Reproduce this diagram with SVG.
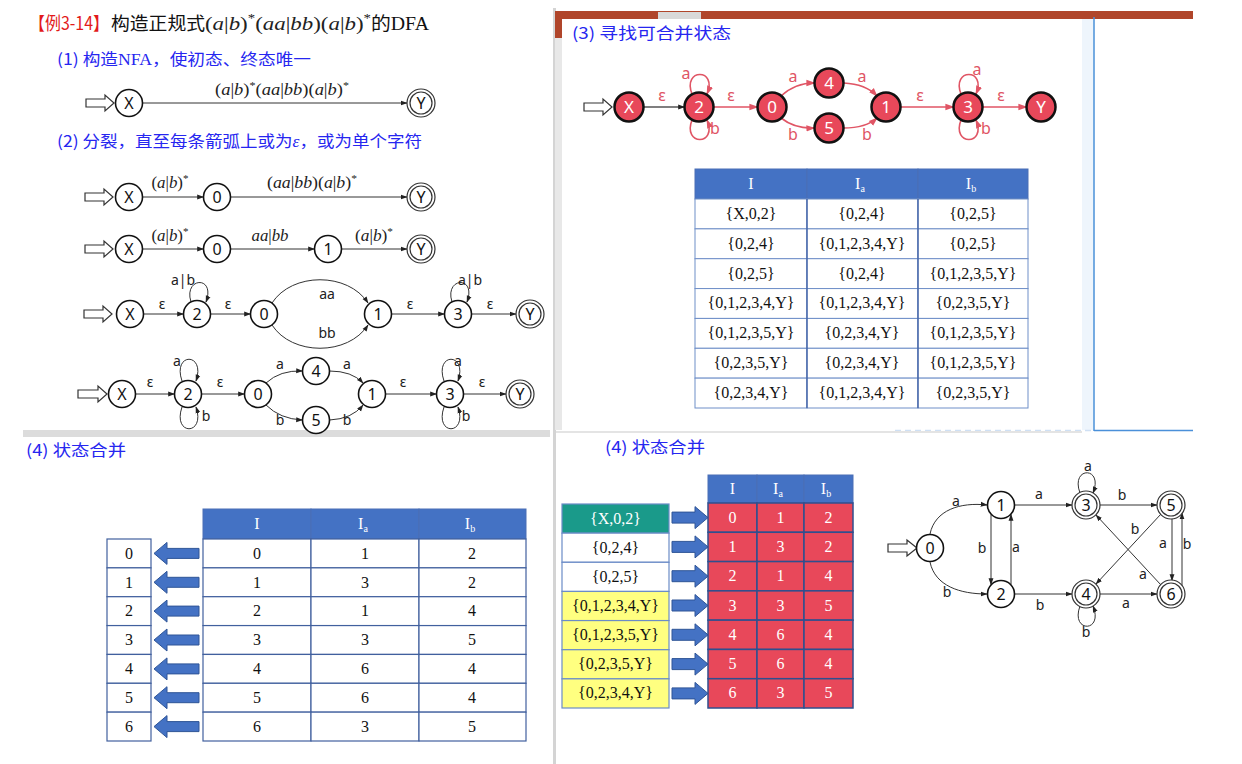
<svg xmlns="http://www.w3.org/2000/svg" width="1242" height="764" viewBox="0 0 1242 764">
<defs>
<marker id="ah" viewBox="0 0 10 10" refX="9" refY="5" markerWidth="7" markerHeight="7" markerUnits="userSpaceOnUse" orient="auto"><path d="M0,1.5 L10,5 L0,8.5 z" fill="#222"/></marker>
<marker id="rah" viewBox="0 0 10 10" refX="9" refY="5" markerWidth="9" markerHeight="9" markerUnits="userSpaceOnUse" orient="auto"><path d="M0,1.5 L10,5 L0,8.5 z" fill="#e05565"/></marker>
<style>
.cn{font-family:"Noto Sans CJK SC","Noto Sans",sans-serif;}
.blue{fill:#2626f0;font-size:16px;}
.node{fill:#fff;stroke:#111;stroke-width:1.6;}
.dbl{fill:#fff;stroke:#333;stroke-width:1.2;}
.nl{font-family:"Noto Sans","DejaVu Sans",sans-serif;font-size:16px;text-anchor:middle;fill:#111;}
.el{font-family:"Noto Sans","DejaVu Sans",sans-serif;font-size:14px;text-anchor:middle;fill:#222;}
.e{fill:none;stroke:#333;stroke-width:1;marker-end:url(#ah);}
.ge{fill:none;stroke:#555;stroke-width:1.6;marker-end:url(#ah);}
.re{fill:none;stroke:#e05565;stroke-width:1.6;marker-end:url(#rah);}
.rn{fill:#e8485a;stroke:#111;stroke-width:2.5;}
.rl{font-family:"Noto Sans","DejaVu Sans",sans-serif;font-size:17px;fill:#fff;text-anchor:middle;}
.rel{font-family:"Noto Sans","DejaVu Sans",sans-serif;font-size:16px;fill:#e05565;text-anchor:middle;}
.m{font-family:"Liberation Serif",serif;font-size:16px;text-anchor:middle;fill:#222;}
.i{font-style:italic;}
.sup{font-size:65%;}
.hol{fill:#fff;stroke:#333;stroke-width:1.2;}
.t{font-family:"Liberation Serif",serif;font-size:16px;text-anchor:middle;fill:#111;}
.tw{font-family:"Liberation Serif",serif;font-size:16px;text-anchor:middle;fill:#fff;}
.hd{fill:#4472c4;stroke:#4a6fb5;stroke-width:1;}
.c1{fill:#fff;stroke:#6f8fc8;stroke-width:1;}
.c2{fill:#fff;stroke:#41609e;stroke-width:1.2;}
.cr{fill:#e8485a;stroke:#2f4f8f;stroke-width:1.5;}
.ba{fill:#4472c4;stroke:#2f5597;stroke-width:1;}
</style>
</defs>
<rect width="1242" height="764" fill="#fff"/>

<g id="panels">
<rect x="553" y="8" width="3" height="756" fill="#d4d4d4"/>
<rect x="555" y="11" width="638" height="8" fill="#b0452a"/>
<rect x="658" y="12" width="43" height="7" fill="#d9d9d9"/>
<rect x="555" y="11" width="7" height="27" fill="#b0452a"/>
<rect x="555" y="38" width="7" height="392" fill="#e8e8e8"/>
<rect x="1082" y="19" width="12" height="411" fill="#eef5fc"/>
<line x1="1094" y1="17" x2="1094" y2="431" stroke="#4a90d9" stroke-width="1.5"/>
<line x1="895" y1="430.5" x2="1094" y2="430.5" stroke="#cfe0f4" stroke-width="1.5" stroke-dasharray="6 4"/>
<line x1="1094" y1="430.5" x2="1193" y2="430.5" stroke="#4a90d9" stroke-width="1.5"/>
<rect x="23" y="430" width="527" height="7" fill="#dcdcdc"/>
<line x1="556" y1="432" x2="1082" y2="432" stroke="#e4e4e4" stroke-width="2"/>
</g>

<g id="titles">
<text class="cn" x="29" y="30" font-size="18" fill="#e21a1a" textLength="80" lengthAdjust="spacingAndGlyphs">【例3-14】</text>
<text class="cn" x="111" y="30" font-size="18" fill="#111" textLength="94" lengthAdjust="spacingAndGlyphs">构造正规式</text>
<text class="m" x="205" y="30" style="text-anchor:start;font-size:19px" textLength="166" lengthAdjust="spacingAndGlyphs">(<tspan class="i">a</tspan>|<tspan class="i">b</tspan>)<tspan class="sup" dy="-8">*</tspan><tspan dy="8">(</tspan><tspan class="i">aa</tspan>|<tspan class="i">bb</tspan>)(<tspan class="i">a</tspan>|<tspan class="i">b</tspan>)<tspan class="sup" dy="-8">*</tspan></text>
<text class="cn" x="371" y="30" font-size="18" fill="#111" textLength="58" lengthAdjust="spacingAndGlyphs">的<tspan font-family="Liberation Serif">DFA</tspan></text>
<text class="cn blue" x="57" y="65" textLength="254" lengthAdjust="spacingAndGlyphs">(1) 构造<tspan font-family="Liberation Serif">NFA</tspan>，使初态、终态唯一</text>
<text class="cn blue" x="57" y="147" textLength="365" lengthAdjust="spacingAndGlyphs">(2) 分裂，直至每条箭弧上或为<tspan font-family="Liberation Serif" font-style="italic">ε</tspan>，或为单个字符</text>
<text class="cn blue" x="572" y="39" textLength="159" lengthAdjust="spacingAndGlyphs">(3) 寻找可合并状态</text>
<text class="cn blue" x="26" y="456" textLength="100" lengthAdjust="spacingAndGlyphs">(4) 状态合并</text>
<text class="cn blue" x="605" y="453" textLength="100" lengthAdjust="spacingAndGlyphs">(4) 状态合并</text>
</g>

<g id="connectors">
<polygon class="hol" points="86,99 105,99 105,95 114,103 105,111 105,107 86,107"/>
<path class="e" d="M143 103 L407 103"/>
<polygon class="hol" points="85,193 104,193 104,189 113,197 104,205 104,201 85,201"/>
<path class="e" d="M143 197 L203.5 197"/>
<path class="e" d="M230.5 197 L407 197"/>
<polygon class="hol" points="85,245 104,245 104,241 113,249 104,257 104,253 85,253"/>
<path class="e" d="M143 249 L203.5 249"/>
<path class="e" d="M230.5 249 L314.5 249"/>
<path class="e" d="M341.5 249 L407 249"/>
<polygon class="hol" points="84,310 103,310 103,306 112,314 103,322 103,318 84,318"/>
<path class="e" d="M143.5 314 L183.5 314"/>
<path class="e" d="M191 302 C183 277,216 275,206 302"/>
<path class="e" d="M210.5 314 L250.5 314"/>
<path class="e" d="M272 303 C292 272,348 272,368 303"/>
<path class="e" d="M272 325 C292 356,348 356,368 325"/>
<path class="e" d="M391.5 314 L444.5 314"/>
<path class="e" d="M452 302 C444 277,477 275,467 302"/>
<path class="e" d="M471.5 314 L516 314"/>
<polygon class="hol" points="78,390 98,390 98,386 107,394 98,402 98,398 78,398"/>
<path class="e" d="M135.5 394 L174.5 394"/>
<path class="e" d="M182 381 C172 352,206 352,196 381"/>
<path class="e" d="M182 407 C172 436,206 436,196 407"/>
<path class="e" d="M201.5 394 L244.5 394"/>
<path class="e" d="M266 383 Q280 370 302.5 371"/>
<path class="e" d="M329.5 371 Q352 371 363 383"/>
<path class="e" d="M266 405 Q280 419 302.5 420"/>
<path class="e" d="M329.5 420 Q352 419 363 405"/>
<path class="e" d="M385.5 394 L436.5 394"/>
<path class="e" d="M444 381 C434 352,468 352,458 381"/>
<path class="e" d="M444 407 C434 436,468 436,458 407"/>
<path class="e" d="M463.5 394 L506 394"/>
<polygon class="hol" points="584,103 603,103 603,99 612,107 603,115 603,111 584,111"/>
<path class="ge" d="M643.5 107 L684.5 107"/>
<path class="re" d="M692 94 C682 68,718 68,707 94"/>
<path class="re" d="M692 120 C682 146,718 146,707 120"/>
<path class="re" d="M713.5 107 L757.5 107"/>
<path class="re" d="M781 96 Q795 83 814.5 83"/>
<path class="re" d="M843.5 83 Q866 84 877 96"/>
<path class="re" d="M781 118 Q795 129 814.5 128"/>
<path class="re" d="M843.5 128 Q866 128 877 118"/>
<path class="re" d="M900.5 107 L953.5 107"/>
<path class="re" d="M961 94 C951 68,987 68,976 94"/>
<path class="re" d="M961 120 C951 146,987 146,976 120"/>
<path class="re" d="M982.5 107 L1026.5 107"/>
<polygon class="hol" points="888,544 907,544 907,540 917,548 907,556 907,552 888,552"/>
<path class="e" d="M930 534 C935 510,960 502,987 505"/>
<path class="e" d="M930 562 C935 586,960 594,987 594"/>
<path class="e" d="M991 514.5 L991 584.5"/>
<path class="e" d="M1011 584.5 L1011 514.5"/>
<path class="e" d="M1014.5 505 L1072 505"/>
<path class="e" d="M1080 493 C1070 466,1104 466,1093 493"/>
<path class="e" d="M1100 505 L1157 505"/>
<path class="e" d="M1014.5 594 L1072 594"/>
<path class="e" d="M1080 606 C1070 633,1104 633,1093 606"/>
<path class="e" d="M1100 594 L1157 594"/>
<path class="e" d="M1172 518.5 L1172 580.5"/>
<path class="e" d="M1182 586 L1182 513"/>
<path class="e" d="M1161 514 L1096 584"/>
<path class="e" d="M1161 585 L1096 515"/>
</g>

<g id="edge-labels">
<text class="m" x="282" y="95" textLength="134" lengthAdjust="spacingAndGlyphs">(<tspan class="i">a</tspan>|<tspan class="i">b</tspan>)<tspan class="sup" dy="-6">*</tspan><tspan dy="6">(</tspan><tspan class="i">aa</tspan>|<tspan class="i">bb</tspan>)(<tspan class="i">a</tspan>|<tspan class="i">b</tspan>)<tspan class="sup" dy="-6">*</tspan></text>
<text class="m" x="170" y="188" textLength="37" lengthAdjust="spacingAndGlyphs">(<tspan class="i">a</tspan>|<tspan class="i">b</tspan>)<tspan class="sup" dy="-6">*</tspan></text>
<text class="m" x="312" y="188" textLength="90" lengthAdjust="spacingAndGlyphs">(<tspan class="i">aa</tspan>|<tspan class="i">bb</tspan>)(<tspan class="i">a</tspan>|<tspan class="i">b</tspan>)<tspan class="sup" dy="-6">*</tspan></text>
<text class="m" x="170" y="241" textLength="37" lengthAdjust="spacingAndGlyphs">(<tspan class="i">a</tspan>|<tspan class="i">b</tspan>)<tspan class="sup" dy="-6">*</tspan></text>
<text class="m" x="270" y="241" textLength="37" lengthAdjust="spacingAndGlyphs"><tspan class="i">aa</tspan>|<tspan class="i">bb</tspan></text>
<text class="m" x="374" y="241" textLength="38" lengthAdjust="spacingAndGlyphs">(<tspan class="i">a</tspan>|<tspan class="i">b</tspan>)<tspan class="sup" dy="-6">*</tspan></text>
<text class="el" x="162" y="309">ε</text>
<text class="el" x="183" y="285">a|b</text>
<text class="el" x="228" y="309">ε</text>
<text class="el" x="327" y="299">aa</text>
<text class="el" x="327" y="338">bb</text>
<text class="el" x="410" y="309">ε</text>
<text class="el" x="470" y="285">a|b</text>
<text class="el" x="490" y="309">ε</text>
<text class="el" x="150" y="387">ε</text>
<text class="el" x="177" y="366">a</text>
<text class="el" x="206" y="421">b</text>
<text class="el" x="220" y="387">ε</text>
<text class="el" x="280" y="369">a</text>
<text class="el" x="347" y="369">a</text>
<text class="el" x="280" y="425">b</text>
<text class="el" x="347" y="425">b</text>
<text class="el" x="403" y="387">ε</text>
<text class="el" x="458" y="366">a</text>
<text class="el" x="466" y="421">b</text>
<text class="el" x="482" y="387">ε</text>
<text class="rel" x="662" y="101">ε</text>
<text class="rel" x="686" y="79">a</text>
<text class="rel" x="715" y="134">b</text>
<text class="rel" x="731" y="101">ε</text>
<text class="rel" x="793" y="82">a</text>
<text class="rel" x="862" y="82">a</text>
<text class="rel" x="793" y="140">b</text>
<text class="rel" x="867" y="140">b</text>
<text class="rel" x="920" y="101">ε</text>
<text class="rel" x="977" y="75">a</text>
<text class="rel" x="986" y="134">b</text>
<text class="rel" x="1001" y="101">ε</text>
<text class="el" x="956" y="506">a</text>
<text class="el" x="947" y="597">b</text>
<text class="el" x="982" y="553">b</text>
<text class="el" x="1016" y="552">a</text>
<text class="el" x="1039" y="499">a</text>
<text class="el" x="1088" y="471">a</text>
<text class="el" x="1122" y="500">b</text>
<text class="el" x="1040" y="610">b</text>
<text class="el" x="1086" y="637">b</text>
<text class="el" x="1126" y="608">a</text>
<text class="el" x="1163" y="548">a</text>
<text class="el" x="1187" y="549">b</text>
<text class="el" x="1135" y="534">b</text>
<text class="el" x="1143" y="579">a</text>
</g>

<g id="n1-X"><circle class="node" cx="129" cy="103" r="13.5"/><text class="nl" x="129" y="109">X</text></g>
<g id="n1-Y"><circle class="dbl" cx="421" cy="103" r="14"/><circle class="dbl" cx="421" cy="103" r="11"/><text class="nl" x="421" y="109">Y</text></g>
<g id="nA-X"><circle class="node" cx="129" cy="197" r="13.5"/><text class="nl" x="129" y="203">X</text></g>
<g id="nA-0"><circle class="node" cx="217" cy="197" r="13.5"/><text class="nl" x="217" y="203">0</text></g>
<g id="nA-Y"><circle class="dbl" cx="421" cy="197" r="14"/><circle class="dbl" cx="421" cy="197" r="11"/><text class="nl" x="421" y="203">Y</text></g>
<g id="nB-X"><circle class="node" cx="129" cy="249" r="13.5"/><text class="nl" x="129" y="255">X</text></g>
<g id="nB-0"><circle class="node" cx="217" cy="249" r="13.5"/><text class="nl" x="217" y="255">0</text></g>
<g id="nB-1"><circle class="node" cx="328" cy="249" r="13.5"/><text class="nl" x="328" y="255">1</text></g>
<g id="nB-Y"><circle class="dbl" cx="421" cy="249" r="14"/><circle class="dbl" cx="421" cy="249" r="11"/><text class="nl" x="421" y="255">Y</text></g>
<g id="nC-X"><circle class="node" cx="130" cy="314" r="13.5"/><text class="nl" x="130" y="320">X</text></g>
<g id="nC-2"><circle class="node" cx="197" cy="314" r="13.5"/><text class="nl" x="197" y="320">2</text></g>
<g id="nC-0"><circle class="node" cx="264" cy="314" r="13.5"/><text class="nl" x="264" y="320">0</text></g>
<g id="nC-1"><circle class="node" cx="378" cy="314" r="13.5"/><text class="nl" x="378" y="320">1</text></g>
<g id="nC-3"><circle class="node" cx="458" cy="314" r="13.5"/><text class="nl" x="458" y="320">3</text></g>
<g id="nC-Y"><circle class="dbl" cx="530" cy="314" r="14"/><circle class="dbl" cx="530" cy="314" r="11"/><text class="nl" x="530" y="320">Y</text></g>
<g id="nD-X"><circle class="node" cx="122" cy="394" r="13.5"/><text class="nl" x="122" y="400">X</text></g>
<g id="nD-2"><circle class="node" cx="188" cy="394" r="13.5"/><text class="nl" x="188" y="400">2</text></g>
<g id="nD-0"><circle class="node" cx="258" cy="394" r="13.5"/><text class="nl" x="258" y="400">0</text></g>
<g id="nD-4"><circle class="node" cx="316" cy="371" r="13.5"/><text class="nl" x="316" y="377">4</text></g>
<g id="nD-5"><circle class="node" cx="316" cy="420" r="13.5"/><text class="nl" x="316" y="426">5</text></g>
<g id="nD-1"><circle class="node" cx="372" cy="394" r="13.5"/><text class="nl" x="372" y="400">1</text></g>
<g id="nD-3"><circle class="node" cx="450" cy="394" r="13.5"/><text class="nl" x="450" y="400">3</text></g>
<g id="nD-Y"><circle class="dbl" cx="520" cy="394" r="14"/><circle class="dbl" cx="520" cy="394" r="11"/><text class="nl" x="520" y="400">Y</text></g>
<g id="r-X"><circle class="rn" cx="629" cy="107" r="14.5"/><text class="rl" x="629" y="113">X</text></g>
<g id="r-2"><circle class="rn" cx="699" cy="107" r="14.5"/><text class="rl" x="699" y="113">2</text></g>
<g id="r-0"><circle class="rn" cx="772" cy="107" r="14.5"/><text class="rl" x="772" y="113">0</text></g>
<g id="r-4"><circle class="rn" cx="829" cy="83" r="14.5"/><text class="rl" x="829" y="89">4</text></g>
<g id="r-5"><circle class="rn" cx="829" cy="128" r="14.5"/><text class="rl" x="829" y="134">5</text></g>
<g id="r-1"><circle class="rn" cx="886" cy="107" r="14.5"/><text class="rl" x="886" y="113">1</text></g>
<g id="r-3"><circle class="rn" cx="968" cy="107" r="14.5"/><text class="rl" x="968" y="113">3</text></g>
<g id="r-Y"><circle class="rn" cx="1041" cy="107" r="14.5"/><text class="rl" x="1041" y="113">Y</text></g>
<g id="d-0"><circle class="node" cx="930" cy="548" r="13.5"/><text class="nl" x="930" y="554">0</text></g>
<g id="d-1"><circle class="node" cx="1001" cy="505" r="13.5"/><text class="nl" x="1001" y="511">1</text></g>
<g id="d-2"><circle class="node" cx="1001" cy="594" r="13.5"/><text class="nl" x="1001" y="600">2</text></g>
<g id="d-3"><circle class="dbl" cx="1086" cy="505" r="14"/><circle class="dbl" cx="1086" cy="505" r="11"/><text class="nl" x="1086" y="511">3</text></g>
<g id="d-4"><circle class="dbl" cx="1086" cy="594" r="14"/><circle class="dbl" cx="1086" cy="594" r="11"/><text class="nl" x="1086" y="600">4</text></g>
<g id="d-5"><circle class="dbl" cx="1171" cy="505" r="14"/><circle class="dbl" cx="1171" cy="505" r="11"/><text class="nl" x="1171" y="511">5</text></g>
<g id="d-6"><circle class="dbl" cx="1171" cy="594" r="14"/><circle class="dbl" cx="1171" cy="594" r="11"/><text class="nl" x="1171" y="600">6</text></g>

<g id="table-subsets">
<rect class="hd" x="695" y="169" width="112" height="30"/><rect class="hd" x="807" y="169" width="111" height="30"/><rect class="hd" x="918" y="169" width="110" height="30"/>
<text class="tw" x="751" y="189">I</text><text class="tw" x="860" y="189">I<tspan font-size="10" dy="3">a</tspan></text><text class="tw" x="971" y="189">I<tspan font-size="10" dy="3">b</tspan></text>
<rect class="c1" x="695" y="199" width="112" height="29.86"/><rect class="c1" x="807" y="199" width="111" height="29.86"/><rect class="c1" x="918" y="199" width="110" height="29.86"/>
<rect class="c1" x="695" y="228.86" width="112" height="29.86"/><rect class="c1" x="807" y="228.86" width="111" height="29.86"/><rect class="c1" x="918" y="228.86" width="110" height="29.86"/>
<rect class="c1" x="695" y="258.71" width="112" height="29.86"/><rect class="c1" x="807" y="258.71" width="111" height="29.86"/><rect class="c1" x="918" y="258.71" width="110" height="29.86"/>
<rect class="c1" x="695" y="288.57" width="112" height="29.86"/><rect class="c1" x="807" y="288.57" width="111" height="29.86"/><rect class="c1" x="918" y="288.57" width="110" height="29.86"/>
<rect class="c1" x="695" y="318.43" width="112" height="29.86"/><rect class="c1" x="807" y="318.43" width="111" height="29.86"/><rect class="c1" x="918" y="318.43" width="110" height="29.86"/>
<rect class="c1" x="695" y="348.29" width="112" height="29.86"/><rect class="c1" x="807" y="348.29" width="111" height="29.86"/><rect class="c1" x="918" y="348.29" width="110" height="29.86"/>
<rect class="c1" x="695" y="378.14" width="112" height="29.86"/><rect class="c1" x="807" y="378.14" width="111" height="29.86"/><rect class="c1" x="918" y="378.14" width="110" height="29.86"/>
<line x1="807" y1="199" x2="807" y2="408" stroke="#3b5ba0" stroke-width="1.2"/><line x1="918" y1="199" x2="918" y2="408" stroke="#3b5ba0" stroke-width="1.2"/>
<text class="t" x="751" y="219">{X,0,2}</text><text class="t" x="862" y="219">{0,2,4}</text><text class="t" x="973" y="219">{0,2,5}</text>
<text class="t" x="751" y="249">{0,2,4}</text><text class="t" x="862" y="249">{0,1,2,3,4,Y}</text><text class="t" x="973" y="249">{0,2,5}</text>
<text class="t" x="751" y="279">{0,2,5}</text><text class="t" x="862" y="279">{0,2,4}</text><text class="t" x="973" y="279">{0,1,2,3,5,Y}</text>
<text class="t" x="751" y="308">{0,1,2,3,4,Y}</text><text class="t" x="862" y="308">{0,1,2,3,4,Y}</text><text class="t" x="973" y="308">{0,2,3,5,Y}</text>
<text class="t" x="751" y="338">{0,1,2,3,5,Y}</text><text class="t" x="862" y="338">{0,2,3,4,Y}</text><text class="t" x="973" y="338">{0,1,2,3,5,Y}</text>
<text class="t" x="751" y="368">{0,2,3,5,Y}</text><text class="t" x="862" y="368">{0,2,3,4,Y}</text><text class="t" x="973" y="368">{0,1,2,3,5,Y}</text>
<text class="t" x="751" y="398">{0,2,3,4,Y}</text><text class="t" x="862" y="398">{0,1,2,3,4,Y}</text><text class="t" x="973" y="398">{0,2,3,5,Y}</text>
</g>

<g id="table-renumber">
<rect class="hd" x="203" y="509" width="108" height="30"/><rect class="hd" x="311" y="509" width="108" height="30"/><rect class="hd" x="419" y="509" width="107" height="30"/>
<text class="tw" x="257" y="529">I</text><text class="tw" x="363" y="529">I<tspan font-size="10" dy="3">a</tspan></text><text class="tw" x="470" y="529">I<tspan font-size="10" dy="3">b</tspan></text>
<rect class="c2" x="203" y="539" width="108" height="28.86"/><rect class="c2" x="311" y="539" width="108" height="28.86"/><rect class="c2" x="419" y="539" width="107" height="28.86"/>
<rect class="c2" x="203" y="567.86" width="108" height="28.86"/><rect class="c2" x="311" y="567.86" width="108" height="28.86"/><rect class="c2" x="419" y="567.86" width="107" height="28.86"/>
<rect class="c2" x="203" y="596.71" width="108" height="28.86"/><rect class="c2" x="311" y="596.71" width="108" height="28.86"/><rect class="c2" x="419" y="596.71" width="107" height="28.86"/>
<rect class="c2" x="203" y="625.57" width="108" height="28.86"/><rect class="c2" x="311" y="625.57" width="108" height="28.86"/><rect class="c2" x="419" y="625.57" width="107" height="28.86"/>
<rect class="c2" x="203" y="654.43" width="108" height="28.86"/><rect class="c2" x="311" y="654.43" width="108" height="28.86"/><rect class="c2" x="419" y="654.43" width="107" height="28.86"/>
<rect class="c2" x="203" y="683.29" width="108" height="28.86"/><rect class="c2" x="311" y="683.29" width="108" height="28.86"/><rect class="c2" x="419" y="683.29" width="107" height="28.86"/>
<rect class="c2" x="203" y="712.14" width="108" height="28.86"/><rect class="c2" x="311" y="712.14" width="108" height="28.86"/><rect class="c2" x="419" y="712.14" width="107" height="28.86"/>
<text class="t" x="257" y="559">0</text><text class="t" x="365" y="559">1</text><text class="t" x="472" y="559">2</text>
<text class="t" x="257" y="588">1</text><text class="t" x="365" y="588">3</text><text class="t" x="472" y="588">2</text>
<text class="t" x="257" y="616">2</text><text class="t" x="365" y="616">1</text><text class="t" x="472" y="616">4</text>
<text class="t" x="257" y="645">3</text><text class="t" x="365" y="645">3</text><text class="t" x="472" y="645">5</text>
<text class="t" x="257" y="674">4</text><text class="t" x="365" y="674">6</text><text class="t" x="472" y="674">4</text>
<text class="t" x="257" y="703">5</text><text class="t" x="365" y="703">6</text><text class="t" x="472" y="703">4</text>
<text class="t" x="257" y="732">6</text><text class="t" x="365" y="732">3</text><text class="t" x="472" y="732">5</text>
</g>
<g id="index-boxes">
<rect class="c2" x="107" y="539" width="44" height="28.86"/><rect class="c2" x="107" y="567.86" width="44" height="28.86"/><rect class="c2" x="107" y="596.71" width="44" height="28.86"/><rect class="c2" x="107" y="625.57" width="44" height="28.86"/><rect class="c2" x="107" y="654.43" width="44" height="28.86"/><rect class="c2" x="107" y="683.29" width="44" height="28.86"/><rect class="c2" x="107" y="712.14" width="44" height="28.86"/>
<text class="t" x="129" y="559">0</text><text class="t" x="129" y="588">1</text><text class="t" x="129" y="616">2</text><text class="t" x="129" y="645">3</text><text class="t" x="129" y="674">4</text><text class="t" x="129" y="703">5</text><text class="t" x="129" y="732">6</text>
</g>
<g id="left-arrows">
<polygon class="ba" points="154,553.4 167,542.4 167,548.4 199,548.4 199,558.4 167,558.4 167,564.4"/>
<polygon class="ba" points="154,582.3 167,571.3 167,577.3 199,577.3 199,587.3 167,587.3 167,593.3"/>
<polygon class="ba" points="154,611.1 167,600.1 167,606.1 199,606.1 199,616.1 167,616.1 167,622.1"/>
<polygon class="ba" points="154,640 167,629 167,635 199,635 199,645 167,645 167,651"/>
<polygon class="ba" points="154,668.9 167,657.9 167,663.9 199,663.9 199,673.9 167,673.9 167,679.9"/>
<polygon class="ba" points="154,697.7 167,686.7 167,692.7 199,692.7 199,702.7 167,702.7 167,708.7"/>
<polygon class="ba" points="154,726.6 167,715.6 167,721.6 199,721.6 199,731.6 167,731.6 167,737.6"/>
</g>

<g id="set-boxes">
<rect x="562" y="504" width="107" height="29.14" fill="#1a9a8a" stroke="#6b8cc7" stroke-width="1.2"/>
<rect x="562" y="533.14" width="107" height="29.14" fill="#fff" stroke="#6b8cc7" stroke-width="1.2"/>
<rect x="562" y="562.29" width="107" height="29.14" fill="#fff" stroke="#6b8cc7" stroke-width="1.2"/>
<rect x="562" y="591.43" width="107" height="29.14" fill="#ffff80" stroke="#6b8cc7" stroke-width="1.2"/>
<rect x="562" y="620.57" width="107" height="29.14" fill="#ffff80" stroke="#6b8cc7" stroke-width="1.2"/>
<rect x="562" y="649.71" width="107" height="29.14" fill="#ffff80" stroke="#6b8cc7" stroke-width="1.2"/>
<rect x="562" y="678.86" width="107" height="29.14" fill="#ffff80" stroke="#6b8cc7" stroke-width="1.2"/>
<text class="tw" x="615.5" y="524">{X,0,2}</text>
<text class="t" x="615.5" y="553">{0,2,4}</text>
<text class="t" x="615.5" y="582">{0,2,5}</text>
<text class="t" x="615.5" y="611">{0,1,2,3,4,Y}</text>
<text class="t" x="615.5" y="640">{0,1,2,3,5,Y}</text>
<text class="t" x="615.5" y="669">{0,2,3,5,Y}</text>
<text class="t" x="615.5" y="698">{0,2,3,4,Y}</text>
</g>
<g id="right-arrows">
<polygon class="ba" points="672,512.1 695,512.1 695,506.6 708,517.6 695,528.6 695,523.1 672,523.1"/>
<polygon class="ba" points="672,541.4 695,541.4 695,535.9 708,546.9 695,557.9 695,552.4 672,552.4"/>
<polygon class="ba" points="672,570.7 695,570.7 695,565.2 708,576.2 695,587.2 695,581.7 672,581.7"/>
<polygon class="ba" points="672,600 695,600 695,594.5 708,605.5 695,616.5 695,611 672,611"/>
<polygon class="ba" points="672,629.3 695,629.3 695,623.8 708,634.8 695,645.8 695,640.3 672,640.3"/>
<polygon class="ba" points="672,658.6 695,658.6 695,653.1 708,664.1 695,675.1 695,669.6 672,669.6"/>
<polygon class="ba" points="672,687.9 695,687.9 695,682.4 708,693.4 695,704.4 695,698.9 672,698.9"/>
</g>
<g id="table-merged">
<rect class="hd" x="708" y="475" width="49" height="28"/><rect class="hd" x="757" y="475" width="47" height="28"/><rect class="hd" x="804" y="475" width="49" height="28"/>
<text class="tw" x="732.5" y="494">I</text><text class="tw" x="778" y="494">I<tspan font-size="10" dy="3">a</tspan></text><text class="tw" x="826" y="494">I<tspan font-size="10" dy="3">b</tspan></text>
<rect class="cr" x="708" y="503" width="49" height="29.29"/><rect class="cr" x="757" y="503" width="47" height="29.29"/><rect class="cr" x="804" y="503" width="49" height="29.29"/>
<rect class="cr" x="708" y="532.29" width="49" height="29.29"/><rect class="cr" x="757" y="532.29" width="47" height="29.29"/><rect class="cr" x="804" y="532.29" width="49" height="29.29"/>
<rect class="cr" x="708" y="561.57" width="49" height="29.29"/><rect class="cr" x="757" y="561.57" width="47" height="29.29"/><rect class="cr" x="804" y="561.57" width="49" height="29.29"/>
<rect class="cr" x="708" y="590.86" width="49" height="29.29"/><rect class="cr" x="757" y="590.86" width="47" height="29.29"/><rect class="cr" x="804" y="590.86" width="49" height="29.29"/>
<rect class="cr" x="708" y="620.14" width="49" height="29.29"/><rect class="cr" x="757" y="620.14" width="47" height="29.29"/><rect class="cr" x="804" y="620.14" width="49" height="29.29"/>
<rect class="cr" x="708" y="649.43" width="49" height="29.29"/><rect class="cr" x="757" y="649.43" width="47" height="29.29"/><rect class="cr" x="804" y="649.43" width="49" height="29.29"/>
<rect class="cr" x="708" y="678.71" width="49" height="29.29"/><rect class="cr" x="757" y="678.71" width="47" height="29.29"/><rect class="cr" x="804" y="678.71" width="49" height="29.29"/>
<text class="tw" x="732.5" y="523">0</text><text class="tw" x="780.5" y="523">1</text><text class="tw" x="828.5" y="523">2</text>
<text class="tw" x="732.5" y="552">1</text><text class="tw" x="780.5" y="552">3</text><text class="tw" x="828.5" y="552">2</text>
<text class="tw" x="732.5" y="581">2</text><text class="tw" x="780.5" y="581">1</text><text class="tw" x="828.5" y="581">4</text>
<text class="tw" x="732.5" y="611">3</text><text class="tw" x="780.5" y="611">3</text><text class="tw" x="828.5" y="611">5</text>
<text class="tw" x="732.5" y="640">4</text><text class="tw" x="780.5" y="640">6</text><text class="tw" x="828.5" y="640">4</text>
<text class="tw" x="732.5" y="669">5</text><text class="tw" x="780.5" y="669">6</text><text class="tw" x="828.5" y="669">4</text>
<text class="tw" x="732.5" y="698">6</text><text class="tw" x="780.5" y="698">3</text><text class="tw" x="828.5" y="698">5</text>
</g>
</svg>
